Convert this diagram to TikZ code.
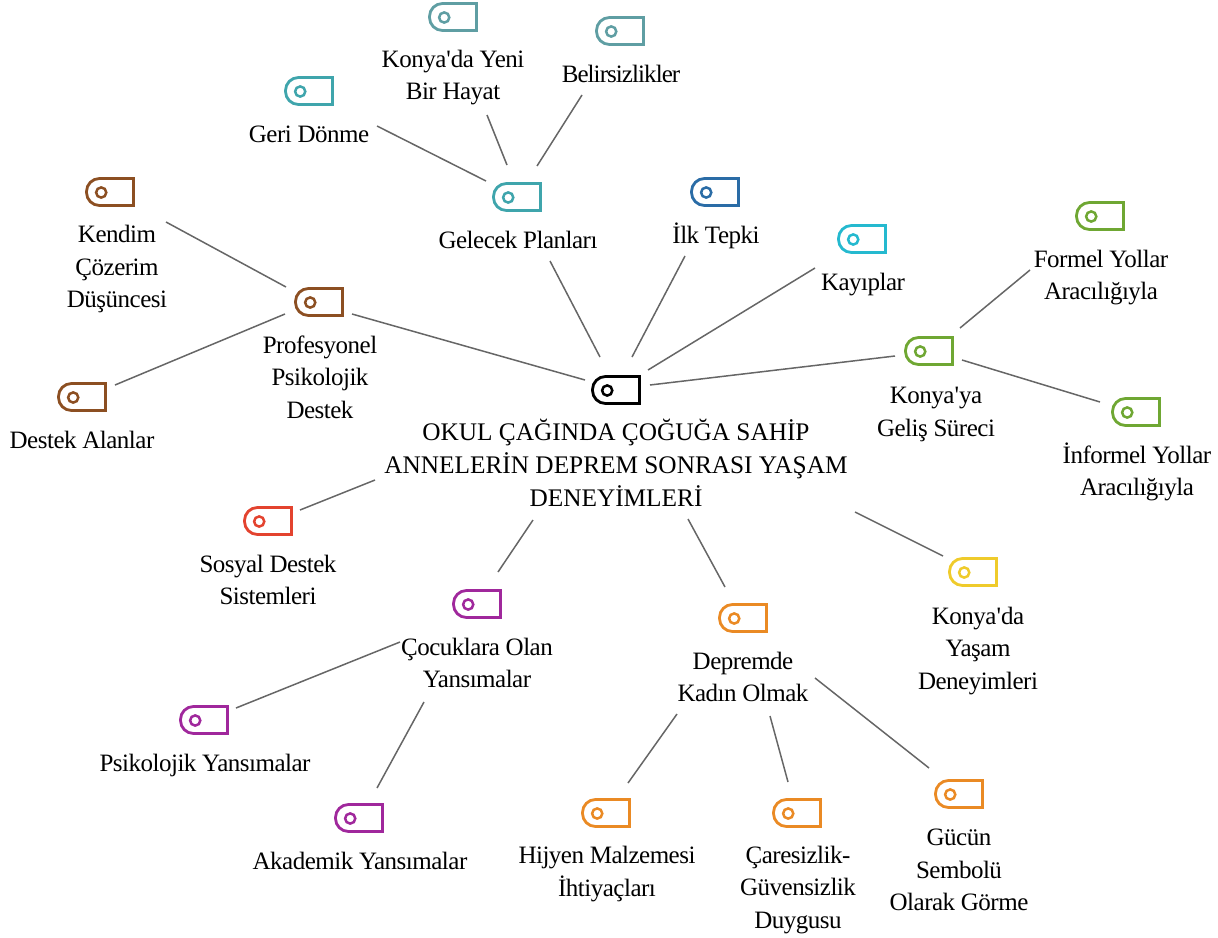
\documentclass[tikz,border=0pt]{standalone}
\usepackage{fontspec}
\setmainfont{Liberation Serif}
\newfontfamily\labfont[LetterSpace=-2.0]{Liberation Serif}
\newfontfamily\tightfont[LetterSpace=-3.7]{Liberation Serif}
\definecolor{cteal}{HTML}{3FA5AC}
\definecolor{cteald}{HTML}{5F9EA3}
\definecolor{cblue}{HTML}{2A6CA6}
\definecolor{ccyan}{HTML}{25B9CF}
\definecolor{cgreen}{HTML}{6FA733}
\definecolor{cyellow}{HTML}{EFCB2B}
\definecolor{corange}{HTML}{EA8A24}
\definecolor{cpurple}{HTML}{A0289C}
\definecolor{cred}{HTML}{E3432F}
\definecolor{cbrown}{HTML}{8C4F22}
\definecolor{cline}{HTML}{666666}
\tikzset{
  x=1pt,y=-1pt,
  lab/.style={align=center,inner sep=0pt,text=black,font=\fontsize{25}{32.5}\labfont},
  tightlab/.style={align=center,inner sep=0pt,text=black,font=\fontsize{25}{32.5}\tightfont},
  rootlab/.style={align=center,inner sep=0pt,text=black,font=\fontsize{25.3}{33}\selectfont},
  iconbox/.style={inner sep=0pt,minimum width=47pt,minimum height=27pt},
  link/.style={draw=cline,line width=1.5pt},
}
\newcommand{\tagicon}[4]{%
  \node[iconbox] (#1) at (#2,#3) {};
  \draw[#4,line width=2.8pt,line join=miter]
    ([shift={(23.5,-13.5)}]#1.center) -- ([shift={(-10.5,-13.5)}]#1.center)
    arc[start angle=90,end angle=180,radius=13pt]
    -- ([shift={(-23.5,0.5)}]#1.center)
    arc[start angle=180,end angle=270,radius=13pt]
    -- ([shift={(23.5,13.5)}]#1.center) -- cycle;
  \draw[#4,line width=2.5pt] ([shift={(-8.8,0.5)}]#1.center) circle[radius=5.1pt];
}
\newcommand{\lnk}[6]{\draw[link] ([shift={(#3,#4)}]#1.center) -- ([shift={(#5,#6)}]#2.center);}
\begin{document}
\begin{tikzpicture}
\useasboundingbox (0,0) rectangle (1218,937);
% icons and labels
\tagicon{root}{616}{390}{black}
\node[rootlab] (roott) at (616,463) {OKUL ÇAĞINDA ÇOĞUĞA SAHİP\\ANNELERİN DEPREM SONRASI YAŞAM\\DENEYİMLERİ};
\tagicon{gel}{517}{197}{cteal}
\node[lab] (gelt) at (518,240) {Gelecek Planları};
\tagicon{geri}{309}{91}{cteal}
\node[lab] (gerit) at (309,134) {Geri Dönme};
\tagicon{yeni}{453}{17}{cteald}
\node[lab] (yenit) at (453,77.5) {Konya\textquotesingle da Yeni\\Bir Hayat};
\tagicon{bel}{620}{31}{cteald}
\node[tightlab] (belt) at (621,74) {Belirsizlikler};
\tagicon{ilk}{715}{192}{cblue}
\node[lab] (ilkt) at (716,236) {İlk Tepki};
\tagicon{kay}{862}{239}{ccyan}
\node[lab] (kayt) at (863,284.5) {Kayıplar};
\tagicon{gelis}{929}{351}{cgreen}
\node[lab] (gelist) at (936,414.5) {Konya\textquotesingle ya\\Geliş Süreci};
\tagicon{form}{1100}{216}{cgreen}
\node[lab] (formt) at (1101,277.5) {Formel Yollar\\Aracılığıyla};
\tagicon{inf}{1136}{412}{cgreen}
\node[lab] (inft) at (1137,472) {İnformel Yollar\\Aracılığıyla};
\tagicon{yas}{973}{572}{cyellow}
\node[lab] (yast) at (978,651) {Konya\textquotesingle da\\Yaşam\\Deneyimleri};
\tagicon{dep}{743}{618}{corange}
\node[lab] (dept) at (743,677) {Depremde\\Kadın Olmak};
\tagicon{coc}{477}{604}{cpurple}
\node[lab] (coct) at (477,663) {Çocuklara Olan\\Yansımalar};
\tagicon{sos}{268}{521}{cred}
\node[lab] (sost) at (268,580) {Sosyal Destek\\Sistemleri};
\tagicon{pro}{319}{302}{cbrown}
\node[lab] (prot) at (320,377) {Profesyonel\\Psikolojik\\Destek};
\tagicon{ken}{110}{192}{cbrown}
\node[lab] (kent) at (117,269) {Kendim\\Çözerim\\Düşüncesi};
\tagicon{des}{82}{397}{cbrown}
\node[lab] (dest) at (82,440) {Destek Alanlar};
\tagicon{psi}{204}{720}{cpurple}
\node[lab] (psit) at (205,765) {Psikolojik Yansımalar};
\tagicon{aka}{359}{818}{cpurple}
\node[lab] (akat) at (360,861) {Akademik Yansımalar};
\tagicon{hij}{606}{813}{corange}
\node[lab] (hijt) at (607,874) {Hijyen Malzemesi\\İhtiyaçları};
\tagicon{car}{797}{813}{corange}
\node[lab] (cart) at (798,890) {Çaresizlik-\\Güvensizlik\\Duygusu};
\tagicon{guc}{959}{794}{corange}
\node[lab] (guct) at (959,870) {Gücün\\Sembolü\\Olarak Görme};
% connectors: offsets from the centres of the named icons
\lnk{root}{gel}{-16}{-33}{33}{64}
\lnk{root}{ilk}{16}{-33}{-30}{64}
\lnk{root}{kay}{32}{-20}{-47}{29}
\lnk{root}{gelis}{34}{-5}{-34}{5}
\lnk{gelis}{form}{31}{-23}{-70}{54}
\lnk{gelis}{inf}{33}{9}{-36}{-10}
\lnk{gel}{geri}{-31}{-16}{68}{35}
\lnk{gel}{yeni}{-10}{-32}{34}{98}
\lnk{gel}{bel}{20}{-31}{-38}{64}
\lnk{root}{pro}{-31}{-10}{33}{12}
\lnk{pro}{ken}{-33}{-15}{56}{30}
\lnk{pro}{des}{-34}{12}{33}{-12}
\lnk{root}{sos}{-241}{90}{32}{-11}
\lnk{root}{coc}{-83}{130}{21}{-32}
\lnk{root}{dep}{72}{129}{-18}{-31}
\lnk{root}{yas}{239}{122}{-30}{-16}
\lnk{coc}{psi}{-77}{38}{32}{-12}
\lnk{coc}{aka}{-53}{98}{18}{-30}
\lnk{dep}{hij}{-66}{96}{22}{-30}
\lnk{dep}{car}{27}{98}{-9}{-31}
\lnk{dep}{guc}{72}{60}{-30}{-26}
\end{tikzpicture}
\end{document}
